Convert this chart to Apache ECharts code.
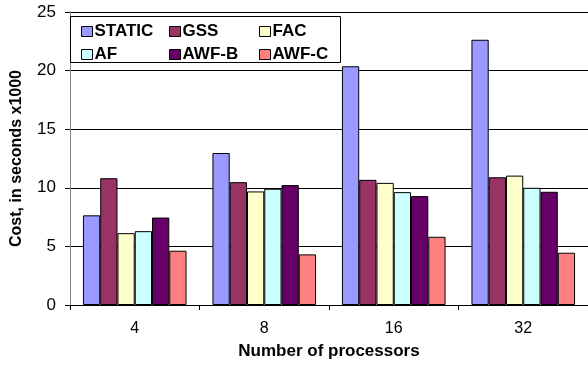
<!DOCTYPE html>
<html><head><meta charset="utf-8">
<script src="https://cdn.jsdelivr.net/npm/echarts@6/dist/echarts.min.js"></script>
<style>html,body{margin:0;padding:0;background:#fff}#c{width:588px;height:365px}</style>
</head><body><div id="c"></div>
<script>
const categories = ['4', '8', '16', '32'];
const seriesNames = ['STATIC', 'GSS', 'FAC', 'AF', 'AWF-B', 'AWF-C'];
const STATIC = [7.65, 12.97, 20.37, 22.63];
const GSS = [10.82, 10.48, 10.68, 10.9];
const FAC = [6.13, 9.69, 10.42, 11.04];
const AF = [6.3, 9.92, 9.63, 10.0];
const AWF_B = [7.46, 10.23, 9.29, 9.66];
const AWF_C = [4.63, 4.32, 5.82, 4.46];
const yTicks = [0, 5, 10, 15, 20, 25];
const colors = ['#9999FF', '#993366', '#FFFFCC', '#CCFFFF', '#660066', '#FF8080'];
const values = [STATIC, GSS, FAC, AF, AWF_B, AWF_C];

const chart = echarts.init(document.getElementById('c'));
const font = 'Arial, "Liberation Sans", sans-serif';
const legendCommon = {
  orient: 'vertical', top: 23, itemWidth: 11, itemHeight: 10, itemGap: 6,
  icon: 'rect',
  textStyle: { fontFamily: font, fontWeight: 'bold', fontSize: 17, color: '#000', padding: [0, 0, 0, -3] },
  itemStyle: { borderColor: '#000', borderWidth: 1 },
  padding: 0, selectedMode: false
};
chart.setOption({
  animation: false,
  grid: { left: 70, right: 0, top: 12, bottom: 58 },
  graphic: [{ type: 'rect', shape: { x: 70.5, y: 16.5, width: 270, height: 46 }, style: { fill: '#fff', stroke: '#000', lineWidth: 1 }, z: 5 }],
  legend: [
    Object.assign({}, legendCommon, { left: 81, data: ['STATIC', 'AF'], z: 10 }),
    Object.assign({}, legendCommon, { left: 169, data: ['GSS', 'AWF-B'], z: 10 }),
    Object.assign({}, legendCommon, { left: 259, data: ['FAC', 'AWF-C'], z: 10 })
  ],
  xAxis: {
    type: 'category', data: categories,
    name: 'Number of processors', nameLocation: 'middle', nameGap: 38,
    nameTextStyle: { fontFamily: font, fontWeight: 'bold', fontSize: 17, color: '#000' },
    axisLine: { lineStyle: { color: '#000', width: 1 } },
    axisTick: { show: true, length: 5, lineStyle: { color: '#000' } },
    axisLabel: { fontFamily: font, fontSize: 16, color: '#000', margin: 16 }
  },
  yAxis: {
    type: 'value', min: yTicks[0], max: yTicks[yTicks.length - 1], interval: 5,
    name: 'Cost, in seconds x1000', nameLocation: 'middle', nameGap: 45,
    nameTextStyle: { fontFamily: font, fontWeight: 'bold', fontSize: 16, color: '#000' },
    axisLine: { show: true, lineStyle: { color: '#808080', width: 1 } },
    axisTick: { show: true, length: 5, lineStyle: { color: '#000' } },
    axisLabel: { fontFamily: font, fontSize: 17, color: '#000', margin: 14 },
    splitLine: { lineStyle: { color: '#000', width: 1 } }
  },
  series: seriesNames.map((n, i) => ({
    name: n, type: 'bar', data: values[i],
    barGap: '0%', barCategoryGap: '20%',
    itemStyle: { color: colors[i], borderColor: '#000', borderWidth: 1 }
  }))
});
</script></body></html>
